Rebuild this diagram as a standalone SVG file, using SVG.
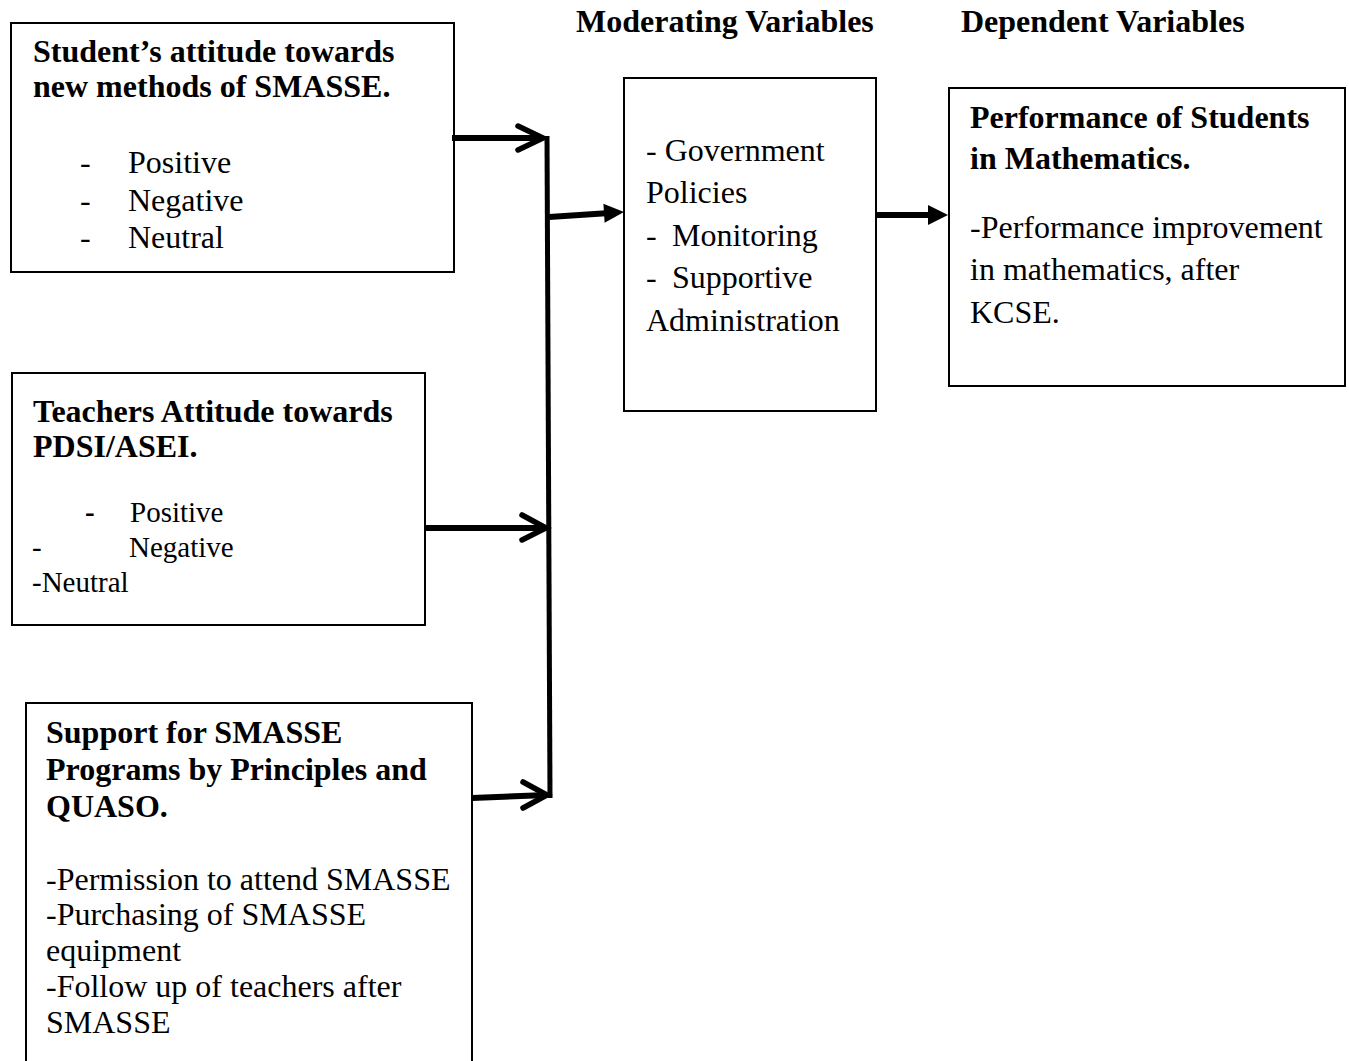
<svg xmlns="http://www.w3.org/2000/svg" width="1349" height="1061" viewBox="0 0 1349 1061">
<style>
.box{fill:#fff;stroke:#000;stroke-width:2}
.t{font-family:"Liberation Serif","Times New Roman",serif;font-size:32px;fill:#000}
.b{font-weight:bold}
.s29{font-size:29px}
.bus{fill:none;stroke:#000;stroke-width:5;stroke-linecap:butt}
.chev{fill:none;stroke:#000;stroke-width:5.5;stroke-linecap:round;stroke-linejoin:miter}
.shaft{fill:none;stroke:#000;stroke-width:6}
.head{fill:#000;stroke:none}
</style>
<rect width="1349" height="1061" fill="#fff"/>

<g id="heading-moderating">
<text class="t b" x="576" y="32">Moderating Variables</text>
</g>
<g id="heading-dependent">
<text class="t b" x="961" y="32">Dependent Variables</text>
</g>

<g id="node-students">
<rect class="box" x="11" y="23" width="443" height="249"/>
<text class="t b" x="33" y="62">Student’s attitude towards</text>
<text class="t b" x="33" y="97">new methods of SMASSE.</text>
<text class="t" x="80" y="173">-</text><text class="t" x="128" y="173">Positive</text>
<text class="t" x="80" y="211">-</text><text class="t" x="128" y="211">Negative</text>
<text class="t" x="80" y="248">-</text><text class="t" x="128" y="248">Neutral</text>
</g>

<g id="node-teachers">
<rect class="box" x="12" y="373" width="413" height="252"/>
<text class="t b" x="33" y="422">Teachers Attitude towards</text>
<text class="t b" x="33" y="457">PDSI/ASEI.</text>
<text class="t s29 b" x="85" y="522">-</text><text class="t s29" x="130" y="522">Positive</text>
<text class="t s29" x="32" y="557">-</text><text class="t s29" x="129" y="557">Negative</text>
<text class="t s29" x="32" y="592">-Neutral</text>
</g>

<g id="node-support">
<rect class="box" x="26" y="703" width="446" height="370"/>
<text class="t b" x="46" y="743">Support for SMASSE</text>
<text class="t b" x="46" y="780">Programs by Principles and</text>
<text class="t b" x="46" y="817">QUASO.</text>
<text class="t" x="46" y="890">-Permission to attend SMASSE</text>
<text class="t" x="46" y="925">-Purchasing of SMASSE</text>
<text class="t" x="46" y="961">equipment</text>
<text class="t" x="46" y="997">-Follow up of teachers after</text>
<text class="t" x="46" y="1033">SMASSE</text>
</g>

<g id="node-moderating">
<rect class="box" x="624" y="78" width="252" height="333"/>
<text class="t" x="646" y="161">- Government</text>
<text class="t" x="646" y="203">Policies</text>
<text class="t" x="646" y="246">-</text><text class="t" x="672" y="246">Monitoring</text>
<text class="t" x="646" y="288">-</text><text class="t" x="672" y="288">Supportive</text>
<text class="t" x="646" y="331">Administration</text>
</g>

<g id="node-dependent">
<rect class="box" x="949" y="88" width="396" height="298"/>
<text class="t b" x="970" y="128">Performance of Students</text>
<text class="t b" x="970" y="169">in Mathematics.</text>
<text class="t" x="970" y="238">-Performance improvement</text>
<text class="t" x="970" y="280">in mathematics, after</text>
<text class="t" x="970" y="323">KCSE.</text>
</g>

<g id="connectors">
<line class="bus" x1="547" y1="136" x2="550" y2="798"/>
<line class="shaft" x1="452" y1="138" x2="543" y2="138"/>
<polyline class="chev" points="518,126 543,138 518,150"/>
<line class="shaft" x1="425" y1="528" x2="546" y2="528"/>
<polyline class="chev" points="522,515 546,528 522,540"/>
<line class="shaft" x1="472" y1="798" x2="547" y2="795"/>
<polyline class="chev" points="523,782 547,795 523,808"/>
<line class="shaft" x1="549" y1="217" x2="606" y2="213.2"/>
<polygon class="head" points="624,212 604.6,222.8 603.4,203.8"/>
<line class="shaft" x1="876" y1="215" x2="930" y2="215" stroke-width="7"/>
<polygon class="head" points="948,215 928,205 928,225"/>
</g>
</svg>
